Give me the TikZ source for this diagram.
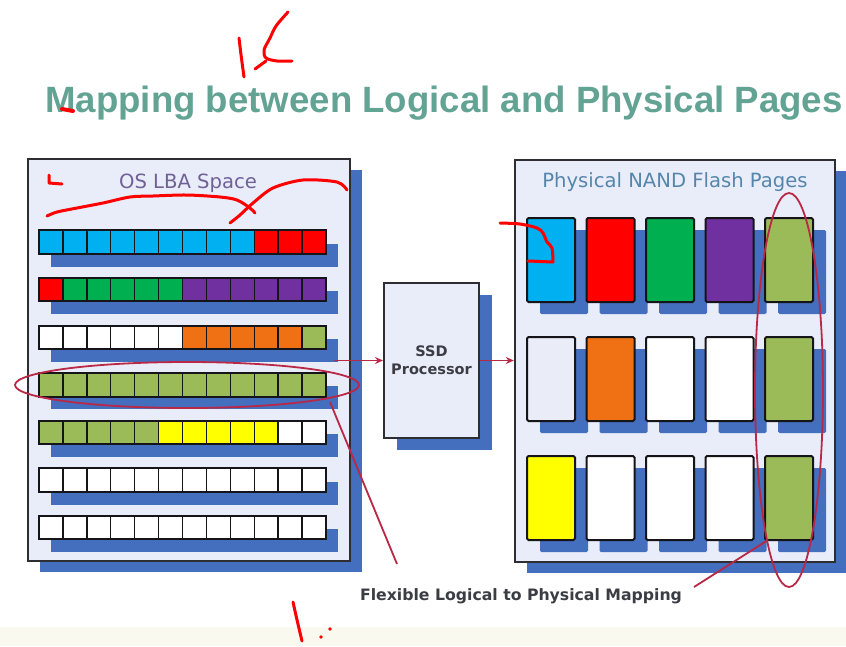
\documentclass[tikz,border=0pt]{standalone}
\usepackage{fontspec}
\setmainfont{Liberation Sans}
\newfontfamily\dejavu{DejaVu Sans}
\usetikzlibrary{arrows.meta,shadows}

\definecolor{titlegreen}{RGB}{98,163,148}
\definecolor{panelfill}{RGB}{233,237,249}
\definecolor{panelline}{RGB}{45,45,50}
\definecolor{shadowblue}{RGB}{68,110,190}
\definecolor{cellline}{RGB}{20,20,25}
\definecolor{pc}{RGB}{0,176,240}
\definecolor{pr}{RGB}{255,0,0}
\definecolor{pg}{RGB}{0,176,80}
\definecolor{pp}{RGB}{112,48,160}
\definecolor{po}{RGB}{240,112,20}
\definecolor{pl}{RGB}{155,187,89}
\definecolor{py}{RGB}{255,255,0}
\definecolor{pw}{RGB}{255,255,255}
\definecolor{pale}{RGB}{234,237,248}
\definecolor{lbatext}{RGB}{112,96,150}
\definecolor{nandtext}{RGB}{84,134,172}
\definecolor{boxtext}{RGB}{60,60,68}
\definecolor{maproute}{RGB}{185,40,70}
\definecolor{inkred}{RGB}{255,0,0}
\definecolor{ground}{RGB}{249,249,240}

\begin{document}
\begin{tikzpicture}[x=1pt,y=-1pt,
  panelbox/.style={draw=panelline, line width=2.4pt, fill=panelfill, inner sep=0pt,
    drop shadow={shadow xshift=12pt, shadow yshift=-11pt, fill=shadowblue, opacity=1}},
  lbacell/.style={draw=cellline, line width=1.4pt, minimum width=23.9pt,
    minimum height=23pt, inner sep=0pt},
  rowback/.style={fill=white, inner sep=0pt, minimum width=287pt, minimum height=23pt,
    drop shadow={shadow xshift=12pt, shadow yshift=-13pt, fill=shadowblue, opacity=1}},
  rowedge/.style={draw=cellline, line width=2pt},
  nandpage/.style={draw=cellline, line width=2pt, rounded corners=1.5pt,
    minimum width=48pt, minimum height=84pt, inner sep=0pt,
    drop shadow={shadow xshift=13pt, shadow yshift=-12pt, fill=shadowblue, opacity=1}},
  flowarrow/.style={draw=maproute, line width=1.6pt, -{Stealth[length=8pt,width=7pt]}},
  mapline/.style={draw=maproute, line width=1.8pt},
  ink/.style={draw=inkred, line width=3pt, line cap=round, line join=round},
]
% canvas
\fill[white] (0,0) rectangle (846,646);
\fill[ground] (0,627) rectangle (846,646);
\useasboundingbox (0,0) rectangle (846,646);

% title
\node[font=\bfseries\fontsize{36.6}{40}\selectfont, text=titlegreen, inner sep=0pt,
  anchor=base] (title) at (444,112) {Mapping between Logical and Physical Pages};

% logical block address panel
\node[panelbox, minimum width=322pt, minimum height=402pt] (lba) at (189,360) {};
\node[font=\dejavu\fontsize{19.6}{22}\selectfont, text=lbatext, inner sep=0pt,
  anchor=base] (lbalabel) at (188,188) {OS LBA Space};

\foreach \r/\cols in {
  1/{pc,pc,pc,pc,pc,pc,pc,pc,pc,pr,pr,pr},
  2/{pr,pg,pg,pg,pg,pg,pp,pp,pp,pp,pp,pp},
  3/{pw,pw,pw,pw,pw,pw,po,po,po,po,po,pl},
  4/{pl,pl,pl,pl,pl,pl,pl,pl,pl,pl,pl,pl},
  5/{pl,pl,pl,pl,pl,py,py,py,py,py,pw,pw},
  6/{pw,pw,pw,pw,pw,pw,pw,pw,pw,pw,pw,pw},
  7/{pw,pw,pw,pw,pw,pw,pw,pw,pw,pw,pw,pw}}
{
  \pgfmathsetmacro\yy{242+47.6*(\r-1)}
  \node[rowback] (lrow\r) at (182.5,\yy) {};
  \foreach \c [count=\k] in \cols {
    \pgfmathsetmacro\xx{39+23.917*(\k-0.5)}
    \node[lbacell, fill=\c] (l\r-\k) at (\xx,\yy) {};
  }
  \draw[rowedge] (lrow\r.north west) rectangle (lrow\r.south east);
}

% controller
\node[draw=panelline, line width=2pt, fill=panelfill, minimum width=95pt,
  minimum height=155pt, inner sep=0pt, align=center, text=boxtext,
  font=\dejavu\bfseries\fontsize{14.5}{18}\selectfont,
  drop shadow={shadow xshift=13pt, shadow yshift=-12pt, fill=shadowblue, opacity=1}]
  (ssd) at (431.5,360.5) {SSD\\Processor};

% physical page panel
\node[panelbox, minimum width=320pt, minimum height=402pt] (nand) at (675,361) {};
\node[font=\dejavu\fontsize{19.6}{22}\selectfont, text=nandtext, inner sep=0pt,
  anchor=base] (nandlabel) at (675,187) {Physical NAND Flash Pages};

\foreach \r/\cols in {
  1/{pc,pr,pg,pp,pl},
  2/{pale,po,pw,pw,pl},
  3/{py,pw,pw,pw,pl}}
{
  \foreach \c [count=\k] in \cols {
    \node[nandpage, fill=\c] (p\r-\k) at ({551+59.5*(\k-1)},{260+119*(\r-1)}) {};
  }
}

% data path
\coordinate (feed) at (334,360.5);
\draw[flowarrow] (feed) -- (ssd.west);
\draw[flowarrow] (ssd.east) -- (ssd.east -| nand.west);

% mapping callout
\node[font=\dejavu\bfseries\fontsize{15.7}{18}\selectfont, text=boxtext, inner sep=0pt,
  anchor=base] (maplabel) at (521,600) {Flexible Logical to Physical Mapping};

\draw[mapline] (187,385) ellipse [x radius=172pt, y radius=23pt];
\draw[mapline] (789,390) ellipse [x radius=34pt, y radius=197pt];
\coordinate (rowtip) at (330,402);
\coordinate (labtipL) at (397,564);
\coordinate (labtipR) at (694,587);
\coordinate (coltip) at (768,540);
\draw[mapline] (rowtip) -- (labtipL);
\draw[mapline] (labtipR) -- (coltip);

% hand-drawn marks
\draw[ink] (239,38) .. controls (241,55) .. (244,77);
\draw[ink] plot[smooth] coordinates {(288,12) (276,26) (270,38) (264,50) (266,58) (277,61) (292,61)};
\draw[ink] (255,69) -- (266,61);
\draw[ink, line width=4pt] (62,109) -- (73,111);
\draw[ink] (49,175) -- (49,183) -- (62,184);
\draw[ink] plot[smooth] coordinates {(47,216) (57,212) (77,208) (103,203) (130,197) (153,196) (187,195) (220,197) (237,200) (250,208) (255,213)};
\draw[ink] plot[smooth] coordinates {(230,223) (240,215) (253,203) (273,188) (303,180) (337,182) (347,190)};
\draw[ink] plot[smooth] coordinates {(500,223) (520,224) (537,228) (543,233) (547,242) (552,248) (553,262)};
\draw[ink] (553,262) -- (528,261);
\draw[ink] (293,602) .. controls (297,620) .. (302,641);
\fill[inkred] (321,637) circle (1.8pt);
\fill[inkred] (330,629) circle (1.8pt);
\end{tikzpicture}
\end{document}
